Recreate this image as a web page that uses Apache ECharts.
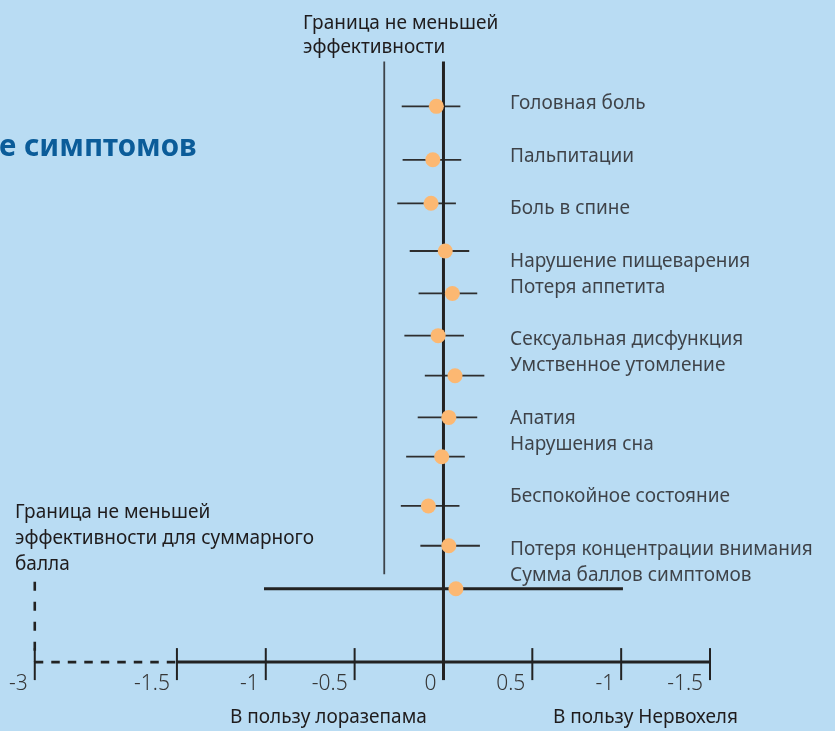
<!DOCTYPE html>
<html>
<head>
<meta charset="utf-8">
<script src="https://cdn.jsdelivr.net/npm/echarts@6/dist/echarts.min.js"></script>
<style>
  html, body { margin: 0; padding: 0; background: #b9dcf3; }
  #chart { width: 835px; height: 731px; }
</style>
</head>
<body>
<div id="chart"></div>
<script>
// ---- data ----
const categories = [
  'Головная боль', 'Пальпитации', 'Боль в спине', 'Нарушение пищеварения',
  'Потеря аппетита', 'Сексуальная дисфункция', 'Умственное утомление', 'Апатия',
  'Нарушения сна', 'Беспокойное состояние', 'Потеря концентрации внимания',
  'Сумма баллов симптомов'
];
const estimate = [-0.04, -0.06, -0.07, 0.01, 0.05, -0.03, 0.065, 0.03, -0.01, -0.085, 0.03, 0.07];
const ciLow    = [-0.235, -0.23, -0.26, -0.19, -0.14, -0.22, -0.105, -0.145, -0.21, -0.24, -0.13, -1.01];
const ciHigh   = [0.095, 0.10, 0.07, 0.145, 0.19, 0.115, 0.23, 0.19, 0.12, 0.09, 0.205, 1.01];
// vertical row of each estimate and of each label (in label-line units)
const rowPos    = [0.09, 2.13, 3.79, 5.61, 7.23, 8.84, 10.37, 11.96, 13.46, 15.34, 16.86, 18.5];
const labelLine = [0, 2, 4, 6, 7, 9, 10, 12, 13, 15, 17, 18];
const tickValues = [-3, -1.5, -1, -0.5, 0, 0.5, 1, 1.5];
const tickLabels = ['-3', '-1.5', '-1', '-0.5', '0', '0.5', '-1', '-1.5'];
const marginSymptom = -1 / 3;
const marginTotal = -3;

// ---- broken axis: -3 .. -1.5 is compressed ----
function toDisp(v) { return v >= -1.5 ? v : -1.5 + (v + 1.5) * (0.8 / 1.5); }

const Y_MIN = -2, Y_AXIS = 21.3;
const FONT = '"Noto Sans", "Open Sans", sans-serif';
const TXT = '#1f1c1d';
const FS = 19;

const chart = echarts.init(document.getElementById('chart'), null, { renderer: 'canvas' });

const dispTicks = tickValues.map(toDisp);

function txt(x, y, s) {
  return { type: 'text', x: x, y: y, style: { text: s, font: FS + 'px ' + FONT, fill: TXT, verticalAlign: 'middle' } };
}

const option = {
  backgroundColor: '#b9dcf3',
  animation: false,
  grid: { left: 17, right: 53.9, top: 51.6, bottom: 68.9, containLabel: false },
  xAxis: {
    type: 'value', min: -2.4, max: 1.9,
    axisLine: { show: false }, axisTick: { show: false }, splitLine: { show: false },
    axisLabel: {
      customValues: dispTicks,
      formatter: function (val) {
        for (let i = 0; i < dispTicks.length; i++) {
          if (Math.abs(dispTicks[i] - val) < 1e-6) return tickLabels[i];
        }
        return '';
      },
      align: 'right', padding: [0, 7, 0, 0], margin: 11.5,
      fontFamily: FONT, fontSize: 21, color: '#363636', fontWeight: 300
    }
  },
  yAxis: {
    type: 'value', inverse: true, min: Y_MIN, max: Y_AXIS, show: false
  },
  graphic: [
    { type: 'text', left: -1, top: 133, style: { text: 'е симптомов', font: 'bold 29.5px ' + FONT, fill: '#0b5c99' } },
    txt(303, 23.5, 'Граница не меньшей'),
    txt(303, 47.5, 'эффективности'),
    txt(15, 512.5, 'Граница не меньшей'),
    txt(15, 538.5, 'эффективности для суммарного'),
    txt(15, 564.5, 'балла'),
    txt(230, 718, 'В пользу лоразепама'),
    txt(553, 718, 'В пользу Нервохеля')
  ],
  series: [
    // non-inferiority margin for single symptoms
    {
      type: 'line', clip: false, symbol: 'none', z: 2,
      data: [[marginSymptom, -1.62], [marginSymptom, 17.95]],
      lineStyle: { color: '#3d434a', width: 1.8 }
    },
    // axis line, solid part
    {
      type: 'line', clip: false, symbol: 'none', z: 3,
      data: [[-1.5, Y_AXIS], [1.5, Y_AXIS]],
      lineStyle: { color: '#222', width: 3 }
    },
    // axis line, compressed dashed part
    {
      type: 'line', clip: false, symbol: 'none', z: 3,
      data: [[toDisp(marginTotal), Y_AXIS], [-1.5, Y_AXIS]],
      lineStyle: { color: '#222', width: 2.6, type: [8.5, 8] }
    },
    // non-inferiority margin for total score (dashed vertical)
    {
      type: 'line', clip: false, symbol: 'none', z: 3,
      data: [[toDisp(marginTotal), 18.23], [toDisp(marginTotal), Y_AXIS]],
      lineStyle: { color: '#222', width: 2.6, type: [9, 11] }
    },
    // zero line
    {
      type: 'line', clip: false, symbol: 'none', z: 4,
      data: [[0, -1.62], [0, Y_AXIS]],
      lineStyle: { color: '#222', width: 3 }
    },
    // ticks
    {
      type: 'custom', z: 4, clip: false,
      data: dispTicks.map(function (v) { return [v]; }),
      renderItem: function (params, api) {
        const p = api.coord([api.value(0), Y_AXIS]);
        const isZero = Math.abs(api.value(0)) < 1e-9;
        return {
          type: 'line',
          shape: { x1: p[0], y1: p[1] - (isZero ? 0 : 14), x2: p[0], y2: p[1] + 18 },
          style: { stroke: '#222', lineWidth: isZero ? 3 : 2 }
        };
      }
    },
    // confidence intervals
    {
      type: 'custom', z: 3, clip: false,
      data: categories.map(function (c, i) { return [ciLow[i], ciHigh[i], rowPos[i], i]; }),
      renderItem: function (params, api) {
        const a = api.coord([api.value(0), api.value(2)]);
        const b = api.coord([api.value(1), api.value(2)]);
        const isTotal = api.value(3) === categories.length - 1;
        return {
          type: 'line',
          shape: { x1: a[0], y1: a[1], x2: b[0], y2: b[1] },
          style: { stroke: isTotal ? '#222' : '#2e2e2e', lineWidth: isTotal ? 3 : 1.8 }
        };
      }
    },
    // estimates
    {
      type: 'scatter', z: 10, symbolSize: 15, clip: false,
      data: estimate.map(function (v, i) { return [v, rowPos[i]]; }),
      itemStyle: { color: '#fcb872', opacity: 1 }
    },
    // row labels
    {
      type: 'scatter', z: 10, symbolSize: 1, clip: false, silent: true,
      data: categories.map(function (c, i) { return { value: [0.372, labelLine[i]], name: c }; }),
      itemStyle: { color: 'rgba(0,0,0,0)' },
      label: {
        show: true, position: 'right', distance: 0,
        formatter: function (p) { return p.name; },
        fontFamily: FONT, fontSize: FS, color: TXT
      }
    }
  ]
};
chart.setOption(option);
</script>
</body>
</html>
